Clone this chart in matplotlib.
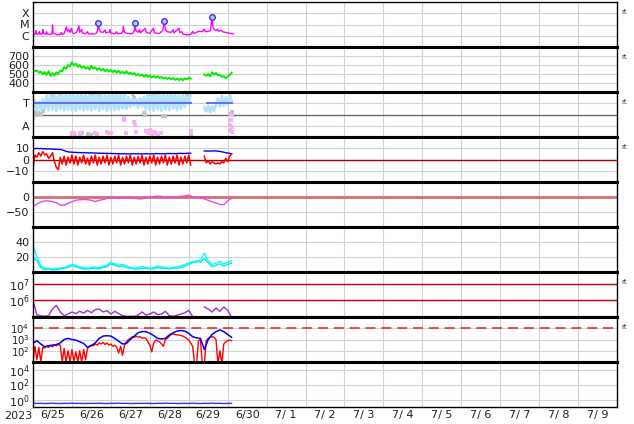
import numpy as np
import matplotlib
matplotlib.use("Agg")
import matplotlib.pyplot as plt
from matplotlib.ticker import NullLocator

# ---------------- data (days from left edge of the axis) ----------------
day_labels = ["6/25", "6/26", "6/27", "6/28", "6/29", "6/30", "7/ 1", "7/ 2",
              "7/ 3", "7/ 4", "7/ 5", "7/ 6", "7/ 7", "7/ 8", "7/ 9"]
year_label = "2023"

t05 = np.round(np.arange(0, 5.101, 0.05), 2)   # 103 samples
t10 = np.round(np.arange(0, 5.101, 0.1), 2)    # 52 samples
NaN = np.nan

# X-ray flux (W/m2)
xray_t = [0.00, 0.05, 0.07, 0.09, 0.15, 0.16, 0.18, 0.24, 0.25, 0.27, 0.33, 0.35, 0.37,
          0.45, 0.49, 0.50, 0.52, 0.58, 0.62, 0.70, 0.73, 0.75, 0.80, 0.86, 0.88, 0.92,
          0.95, 0.99, 1.01, 1.05, 1.12, 1.18, 1.20, 1.25, 1.27, 1.35, 1.40, 1.42, 1.55,
          1.62, 1.66, 1.68, 1.70, 1.74, 1.80, 1.85, 1.87, 1.97, 1.98, 2.00, 2.10, 2.15,
          2.17, 2.27, 2.31, 2.32, 2.35, 2.42, 2.55, 2.60, 2.62, 2.64, 2.70, 2.74, 2.76,
          2.88, 2.91, 3.00, 3.09, 3.12, 3.25, 3.33, 3.37, 3.40, 3.45, 3.55, 3.60, 3.62,
          3.75, 3.77, 3.83, 3.85, 3.95, 4.05, 4.10, 4.12, 4.20, 4.25, 4.35, 4.40, 4.42,
          4.50, 4.56, 4.60, 4.62, 4.66, 4.70, 4.73, 4.78, 4.83, 4.88, 4.95, 5.02, 5.08, 5.14]
xray_v = [1.3e-6, 1.4e-6, 3.0e-6, 1.4e-6, 1.5e-6, 2.3e-6, 1.4e-6, 1.5e-6, 3.7e-6, 1.6e-6,
          1.4e-6, 2.3e-6, 1.4e-6, 1.3e-6, 1.5e-6, 9.0e-6, 1.6e-6, 1.4e-6, 1.2e-6, 1.3e-6,
          2.0e-6, 1.3e-6, 1.6e-6, 6.3e-6, 2.5e-6, 3.5e-6, 2.0e-6, 4.6e-6, 2.0e-6, 1.5e-6,
          2.0e-6, 7.4e-6, 2.0e-6, 3.5e-6, 1.8e-6, 1.5e-6, 2.3e-6, 1.5e-6, 1.4e-6, 1.6e-6,
          3.0e-6, 1.45e-5, 4.0e-6, 2.2e-6, 2.0e-6, 3.2e-6, 1.8e-6, 2.2e-6, 3.5e-6, 1.7e-6,
          1.5e-6, 2.3e-6, 1.5e-6, 1.6e-6, 2.5e-6, 6.3e-6, 2.0e-6, 1.6e-6, 1.5e-6, 2.5e-6,
          1.3e-5, 3.0e-6, 2.0e-6, 3.5e-6, 1.8e-6, 4.6e-6, 2.0e-6, 1.6e-6, 4.6e-6, 1.8e-6,
          1.6e-6, 3.0e-6, 1.9e-5, 3.5e-6, 2.3e-6, 2.0e-6, 3.5e-6, 1.8e-6, 4.6e-6, 1.9e-6,
          2.3e-6, 1.4e-6, 1.2e-6, 1.3e-6, 2.5e-6, 1.6e-6, 2.0e-6, 2.5e-6, 2.3e-6, 4.0e-6,
          2.3e-6, 2.4e-6, 3.0e-6, 4.6e-5, 6.0e-6, 3.5e-6, 3.0e-6, 3.8e-6, 2.5e-6, 3.2e-6,
          2.2e-6, 2.0e-6, 1.8e-6, 1.6e-6, 1.5e-6]
flare_t = [1.68, 2.62, 3.37, 4.60]
flare_v = [1.45e-5, 1.3e-5, 1.9e-5, 4.6e-5]

# solar wind speed (km/s), on t05
wind_v = [545, 530, 540, 515, 525, 500, 520, 490, 530, 480, 510, 485, 520, 500, 540, 530,
          575, 560, 600, 585, 630, 595, 615, 580, 600, 570, 585, 560, 575, 550, 590, 560,
          575, 545, 565, 540, 555, 530, 550, 525, 545, 520, 540, 515, 535, 510, 525, 505,
          530, 500, 515, 495, 510, 485, 500, 480, 495, 470, 490, 468, 482, 462, 478, 458,
          475, 455, 468, 450, 462, 445, 458, 440, 455, 435, 450, 432, 448, 430, 452, 438,
          460, 450, NaN, NaN, NaN, NaN, NaN, NaN, 495, 480, 500, 475, 520, 495, 510, 485,
          490, 470, 475, 455, 470, 490, 515]

# IMF sector angle (deg), on t05
phi_v = [235, 290, 210, 280, 215, 300, 225, 330, 215, 345, 220, 340, 210, 345, 225, 340,
         215, 345, 220, 350, 215, 340, 210, 345, 225, 350, 215, 340, 220, 345, 215, 350,
         225, 340, 210, 345, 225, 340, 210, 345, 220, 350, 215, 340, 220, 345, 230, 335,
         225, 320, 240, 310, 250, 300, 235, 310, 245, 320, 220, 345, 215, 350, 210, 340,
         225, 345, 210, 340, 220, 350, 215, 340, 230, 345, 215, 330, 225, 335, 240, 320,
         260, 345, NaN, NaN, NaN, NaN, NaN, NaN, 235, 205, 250, 200, 245, 210, 260, 310,
         245, 330, 250, 320, 260, 340, 290]
sector_t = [0.0, 4.07, NaN, 4.48, 5.10]
sector_v = [270, 270, NaN, 270, 270]
phi_gray_t = [0.02, 0.06, 0.10, 0.14, 0.20, 0.25, 0.45, 0.50, 0.52, 0.70, 1.00, 1.20, 1.25,
              1.40, 1.50, 1.55, 1.60, 1.70, 2.57, 2.60, 2.85, 2.88, 3.00, 3.10, 3.20, 3.33,
              3.40, 3.95, 4.00, 4.05, 5.05, 5.10, 5.12]
phi_gray_v = [185, 200, 175, 195, 185, 205, 320, 340, 300, 345, 20, 15, 30, 25, 15, 340,
              350, 330, 345, 310, 190, 180, 345, 340, 350, 165, 170, 340, 320, 20, 185, 200, 175]
phi_pink_t = [0.00, 0.01, 1.00, 1.05, 1.08, 1.20, 1.60, 1.65, 1.90, 1.95, 2.00, 2.33, 2.35,
              2.38, 2.60, 2.62, 2.64, 2.90, 2.95, 3.00, 3.05, 3.10, 3.15, 3.20, 3.30, 4.05,
              4.07, 5.05, 5.07, 5.09, 5.10, 5.11, 5.12]
phi_pink_v = [150, 162, 30, 35, 20, 30, 35, 25, 40, 30, 35, 150, 140, 30, 120, 95, 40, 45,
              30, 55, 25, 40, 30, 20, 30, 50, 40, 60, 100, 140, 180, 80, 40]

# IMF |B| and Bz (nT), on t05
bt_v = [10.0, 9.5, 10.0, 9.6, 9.8, 9.4, 9.7, 9.3, 9.5, 9.2, 9.4, 9.0, 9.2, 8.8, 9.0, 8.5,
        8.0, 7.2, 6.8, 6.6, 6.5, 6.3, 6.4, 6.1, 6.2, 6.0, 6.1, 5.9, 6.0, 5.8, 6.0, 5.7,
        5.8, 5.6, 5.7, 5.5, 5.6, 5.4, 5.5, 5.3, 5.4, 5.2, 5.3, 5.1, 5.2, 5.0, 5.2, 5.0,
        5.1, 4.9, 5.1, 5.0, 5.2, 5.0, 5.1, 4.9, 5.0, 5.1, 5.2, 5.0, 5.1, 4.9, 5.0, 5.2,
        5.3, 5.1, 5.2, 5.0, 5.1, 5.3, 5.4, 5.2, 5.3, 5.1, 5.3, 5.4, 5.5, 5.3, 5.4, 5.5,
        5.6, 5.5, NaN, NaN, NaN, NaN, NaN, NaN, 7.5, 7.6, 7.4, 7.6, 7.5, 7.7, 7.5, 7.4,
        7.2, 6.8, 6.5, 6.0, 5.8, 5.5, 5.2]
bz_v = [-8, 4, 2, 6, 3, 7, 4, 5, 1, 3, 6, -2, -7, -9, 2, -4, 3, -5, 2, -3, 4, -4, 3, -5,
        2, -3, 4, -4, 1, -5, 3, -3, 4, -5, 2, -4, 3, -3, 4, -5, 2, -4, 3, -3, 4, -5, 2, -4,
        3, -3, 4, -5, 2, -4, 3, -3, 4, -5, 2, -4, 3, -3, 4, -5, 2, -4, 3, -3, 4, -5, 2, -4,
        3, -3, 4, -5, 2, -4, 3, -3, 4, -5, NaN, NaN, NaN, NaN, NaN, NaN, 3, -3, -1, -4, -2,
        -3, -4, -3, -4, -2, -3, 1, -2, 3, 5]

# Dst (nT), on t10
dst_v = [-33, -23, -17, -13, -13, -16, -19, -27, -27, -21, -16, -11, -9, -8, -9, -11, -15,
         -11, -8, -5, -3, -2, -5, -3, 0, -1, -4, -6, -6, -3, -1, 2, 3, 2, 0, 0, 0, 1, 2, 4,
         6, 1, -1, -3, -6, -11, -16, -20, -25, -26, -13, -4]

# plasma density (two sources), on t10
dens_a = [36, 20, 8, 5, 5, 4, 5, 5, 6, 8, 10, 9, 7, 6, 5, 6, 7, 6, 7, 9, 13, 11, 9, 10, 8,
          6, 5, 6, 7, 6, 5, 6, 8, 7, 6, 5, 6, 7, 8, 10, 12, 14, 13, 16, 25, 15, 10, 12, 14,
          11, 13, 15]
dens_b = [19, 15, 6, 3, 4, 3, 3, 4, 5, 6, 8, 7, 5, 4, 4, 5, 5, 4, 6, 7, 11, 9, 7, 8, 6,
          5, 4, 4, 5, 5, 4, 4, 6, 5, 5, 4, 5, 5, 6, 8, 10, 12, 15, 13, 18, 12, 7, 9, 11,
          8, 10, 12]

# relativistic electron fluence, on t10
fluence_v = [1.0e6, 1.3e5, 1.2e5, 1.1e5, 1.2e5, 3.0e5, 5.0e5, 2.0e5, 1.2e5, 1.5e5, 2.0e5,
             1.6e5, 2.2e5, 1.7e5, 2.5e5, 1.8e5, 2.8e5, 3.0e5, 2.0e5, 2.4e5, 1.5e5, 2.2e5,
             1.6e5, 1.2e5, 1.1e5, 1.1e5, 1.1e5, 1.3e5, 2.0e5, 1.3e5, 1.5e5, 2.0e5, 1.4e5,
             1.5e5, 2.2e5, 1.2e5, 1.1e5, 1.3e5, 1.5e5, 1.8e5, 2.5e5, 1.1e5, NaN, NaN, 4.0e5,
             3.0e5, 2.0e5, 3.5e5, 2.2e5, 4.0e5, 2.5e5, 1.0e5]

# electron flux, log10 values; blue on t10, red on t05
eflux_blue_log10 = [2.66, 2.9, 2.6, 2.35, 2.45, 2.5, 2.55, 2.7, 3.0, 3.1, 3.0, 2.95, 2.8,
                    2.65, 2.3, 2.45, 2.7, 3.1, 3.3, 3.34, 3.3, 3.1, 2.85, 2.6, 2.65, 3.0,
                    3.3, 3.6, 3.7, 3.7, 3.55, 3.35, 3.1, 3.05, 3.1, 3.4, 3.6, 3.75, 3.8,
                    3.75, 3.55, 3.25, 3.15, 3.1, 2.1, 3.0, 3.45, 3.7, 3.85, 3.7, 3.45, 3.2]
eflux_red_log10 = [1.0, 2.4, 1.2, 2.3, 1.0, 2.3, 2.25, 2.4, 2.3, 2.45, 2.35, 2.5, 2.45, 2.55,
                   2.5, 1.0, 2.2, 1.0, 2.0, 1.0, 2.1, 1.1, 1.9, 1.0, 2.0, 1.0, 2.1, 1.2, 2.2,
                   2.4, 2.5, 2.45, 2.6, 2.5, 2.7, 2.6, 2.75, 2.55, 2.7, 2.5, 2.6, 2.4, 2.5,
                   2.3, 1.8, 2.4, 1.6, 2.5, 2.8, 3.0, 3.1, 3.25, 3.2, 3.3, 3.2, 3.25, 3.1,
                   3.15, 3.1, 2.8, 2.5, 1.9, 2.7, 2.95, 2.9, 2.8, 2.6, 2.4, 3.0, 3.1, 3.3,
                   3.45, 3.5, 3.45, 3.4, 3.4, 3.35, 3.3, 3.2, 3.1, 2.95, 2.7, 2.4, 0.8, 0.8,
                   2.9, 3.0, 0.8, 0.8, 2.9, 3.1, 3.2, 3.25, 3.2, 3.0, 0.8, 2.0, 0.8, 2.6,
                   2.8, 2.9, 2.95, 2.9]
eflux_threshold = 1e4

# proton flux, on t10
proton_v = [0.32, 0.30, 0.31, 0.29, 0.30, 0.32, 0.30, 0.29, 0.31, 0.30, 0.32, 0.30, 0.31,
            0.29, 0.30, 0.31, 0.30, 0.32, 0.30, 0.29, 0.31, 0.30, 0.32, 0.30, 0.31, 0.29,
            0.30, 0.31, 0.30, 0.32, 0.30, 0.29, 0.31, 0.30, 0.32, 0.30, 0.31, 0.29, 0.30,
            0.31, 0.30, 0.32, 0.30, 0.29, 0.31, 0.30, 0.32, 0.30, 0.31, 0.29, 0.30, 0.31]

# ---------------- layout ----------------
W, H = 634, 424
fig = plt.figure(figsize=(W / 100, H / 100), dpi=100)
L, R, TOP, PH = 33, 617, 2, 45
axes = []
for k in range(9):
    y0 = TOP + k * PH
    ax = fig.add_axes([L / W, 1 - (y0 + PH) / H, (R - L) / W, PH / H])
    axes.append(ax)

GRID = "#d2d2d2"
FS = 8
for k, ax in enumerate(axes):
    ax.set_xlim(0, 15)
    ax.set_xticks(np.arange(1, 15), minor=True)
    ax.set_xticks(np.arange(15) + 0.5)
    ax.grid(which="minor", axis="x", color=GRID, lw=0.8)
    ax.grid(which="major", axis="y", color=GRID, lw=0.8)
    ax.set_axisbelow(True)
    ax.tick_params(which="both", length=0)
    ax.tick_params(axis="y", labelsize=FS, pad=2.5, colors="#222222")
    if k < 8:
        ax.set_xticklabels([])
    for s in ("left", "right"):
        ax.spines[s].set_linewidth(1.0)
    ax.spines["top"].set_linewidth(1.0 if k == 0 else 2.2)
    ax.spines["bottom"].set_linewidth(1.0 if k == 8 else 2.2)

# panel 1: X-ray
ax = axes[0]
ax.set_yscale("log")
ax.set_ylim(1e-7, 1e-3)
ax.set_yticks([1e-6, 1e-5, 1e-4])
ax.set_yticklabels(["C", "M", "X"])
ax.yaxis.set_minor_locator(NullLocator())
ax.plot(xray_t, xray_v, color="#ff00ff", lw=1.0)
ax.plot(flare_t, flare_v, "o", ms=4, mfc="#c8c8ff", mec="#3030ff", mew=1.0)

# panel 2: wind speed
ax = axes[1]
ax.set_ylim(300, 800)
ax.set_yticks([400, 500, 600, 700])
ax.plot(t05, wind_v, color="#00ee00", lw=1.4)

# panel 3: sector
ax = axes[2]
ax.set_ylim(0, 360)
ax.set_yticks([90, 270])
ax.set_yticklabels(["A", "T"])
ax.axhline(180, color="#666666", lw=1.0, zorder=1)
ax.plot(phi_gray_t, phi_gray_v, "s", ms=2.2, color="#c4c4c4", mew=0)
ax.plot(t05, phi_v, color="#b0e2fb", lw=2.0)
ax.plot(phi_pink_t, phi_pink_v, "s", ms=2.4, color="#f5b4f0", mew=0)
ax.plot(sector_t, sector_v, color="#6a6af0", lw=1.4)

# panel 4: IMF
ax = axes[3]
ax.set_ylim(-20, 20)
ax.set_yticks([-10, 0, 10])
ax.set_yticklabels(["\u221210", "0", "10"])
ax.axhline(0, color="#aa0000", lw=1.0, zorder=1)
ax.plot(t05, bt_v, color="#0000ff", lw=1.0)
ax.plot(t05, bz_v, color="#ff0000", lw=1.1)

# panel 5: Dst
ax = axes[4]
ax.set_ylim(-100, 50)
ax.set_yticks([-50, 0])
ax.set_yticklabels(["\u221250", "0"])
ax.axhline(0, color="#d07070", lw=2.0, zorder=1)
ax.plot(t10, dst_v, color="#ee44ee", lw=1.0)

# panel 6: density
ax = axes[5]
ax.set_ylim(0, 60)
ax.set_yticks([20, 40])
ax.plot(t10, dens_a, color="#00ffff", lw=1.0)
ax.plot(t10, dens_b, color="#00eeee", lw=1.0)

# panel 7: electron fluence
ax = axes[6]
ax.set_yscale("log")
ax.set_ylim(1e5, 10 ** 7.7)
ax.set_yticks([1e6, 1e7])
ax.set_yticklabels([r"$10^6$", r"$10^7$"])
ax.yaxis.set_minor_locator(NullLocator())
ax.axhline(1e6, color="#cc0000", lw=1.0, zorder=1)
ax.axhline(1e7, color="#cc0000", lw=1.0, zorder=1)
ax.plot(t10, fluence_v, color="#9933cc", lw=1.0)

# panel 8: electron flux
ax = axes[7]
ax.set_yscale("log")
ax.set_ylim(1e1, 1e5)
ax.set_yticks([1e2, 1e3, 1e4])
ax.set_yticklabels([r"$10^2$", r"$10^3$", r"$10^4$"])
ax.tick_params(axis="y", labelsize=7.3)
ax.yaxis.set_minor_locator(NullLocator())
ax.axhline(eflux_threshold, color="#dd3333", lw=1.2, dashes=(6, 3.5), zorder=1)
ax.plot(t05, 10 ** np.array(eflux_red_log10), color="#ff0000", lw=1.0)
ax.plot(t10, 10 ** np.array(eflux_blue_log10), color="#0000ff", lw=1.1)

# panel 9: protons
ax = axes[8]
ax.set_yscale("log")
ax.set_ylim(1e-1, 1e5)
ax.set_yticks([1e0, 1e2, 1e4])
ax.set_yticklabels([r"$10^0$", r"$10^2$", r"$10^4$"])
ax.yaxis.set_minor_locator(NullLocator())
ax.plot(t10, proton_v, color="#3333ff", lw=1.0)
ax.set_xticklabels(day_labels)
ax.tick_params(axis="x", labelsize=FS, pad=2.5, colors="#222222")
ax.text(-0.38, -0.08, year_label, transform=ax.get_xaxis_transform(),
        ha="center", va="top", fontsize=FS, color="#222222")

# "rt" marks on the right
for k in (0, 1, 2, 3, 6, 7):
    fig.text(621 / W, 1 - (TOP + k * PH + 10) / H, "rt", fontsize=5, va="center",
             color="#333333")

fig.savefig("out.png", dpi=100)
